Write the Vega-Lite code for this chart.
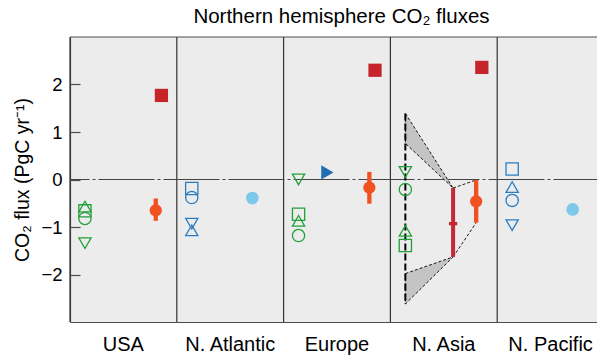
{
  "$schema": "https://vega.github.io/schema/vega-lite/v6.json",
  "width": 527,
  "height": 285,
  "autosize": {"type": "none"},
  "padding": {"left": 70, "top": 37, "right": 0, "bottom": 34},
  "background": "white",
  "view": {"fill": "#ebeceb", "stroke": null},
  "title": {
    "text": "Northern hemisphere CO₂ fluxes",
    "fontSize": 20.5,
    "fontWeight": "normal",
    "font": "Liberation Sans",
    "color": "#000000",
    "anchor": "middle",
    "baseline": "alphabetic",
    "offset": 14,
    "dx": 8,
    "dy": 21
  },
  "config": {
    "font": "Liberation Sans",
    "axis": {
      "grid": false,
      "domainColor": "#4d4d4d",
      "domainWidth": 1.2,
      "tickColor": "#4d4d4d",
      "tickWidth": 1.2,
      "labelColor": "#000000",
      "titleColor": "#000000",
      "labelFont": "Liberation Sans",
      "titleFont": "Liberation Sans",
      "titleFontWeight": "normal"
    }
  },
  "datasets": {
    "regions": [
      {"region": "USA"},
      {"region": "N. Atlantic"},
      {"region": "Europe"},
      {"region": "N. Asia"},
      {"region": "N. Pacific"}
    ],
    "bottomUp": [
      {"region": "USA", "group": "land", "source": "S1", "flux": -0.57},
      {"region": "USA", "group": "land", "source": "S2", "flux": -0.66},
      {"region": "USA", "group": "land", "source": "S3", "flux": -0.82},
      {"region": "USA", "group": "land", "source": "S4", "flux": -1.34},
      {"region": "N. Atlantic", "group": "ocean", "source": "S2", "flux": -0.19},
      {"region": "N. Atlantic", "group": "ocean", "source": "S3", "flux": -0.38},
      {"region": "N. Atlantic", "group": "ocean", "source": "S4", "flux": -0.93},
      {"region": "N. Atlantic", "group": "ocean", "source": "S1", "flux": -1.07},
      {"region": "Europe", "group": "land", "source": "S4", "flux": 0.0},
      {"region": "Europe", "group": "land", "source": "S2", "flux": -0.73},
      {"region": "Europe", "group": "land", "source": "S1", "flux": -0.87},
      {"region": "Europe", "group": "land", "source": "S3", "flux": -1.18},
      {"region": "N. Asia", "group": "land", "source": "S4", "flux": 0.16},
      {"region": "N. Asia", "group": "land", "source": "S3", "flux": -0.21},
      {"region": "N. Asia", "group": "land", "source": "S1", "flux": -1.08},
      {"region": "N. Asia", "group": "land", "source": "S2", "flux": -1.39},
      {"region": "N. Pacific", "group": "ocean", "source": "S2", "flux": 0.22},
      {"region": "N. Pacific", "group": "ocean", "source": "S1", "flux": -0.16},
      {"region": "N. Pacific", "group": "ocean", "source": "S3", "flux": -0.44},
      {"region": "N. Pacific", "group": "ocean", "source": "S4", "flux": -0.96}
    ],
    "aircraft": [
      {"region": "Europe", "flux": 0.15}
    ],
    "forward": [
      {"region": "USA", "flux": 1.77},
      {"region": "Europe", "flux": 2.3},
      {"region": "N. Asia", "flux": 2.36}
    ],
    "inversion": [
      {"region": "USA", "flux": -0.65, "low": -0.87, "high": -0.4},
      {"region": "Europe", "flux": -0.17, "low": -0.51, "high": 0.16},
      {"region": "N. Asia", "flux": -0.46, "low": -0.91, "high": -0.01}
    ],
    "oceanClimatology": [
      {"region": "N. Atlantic", "flux": -0.39},
      {"region": "N. Pacific", "flux": -0.63}
    ],
    "ensemble": [
      {"region": "N. Asia", "flux": -0.93, "low": -1.63, "high": -0.18}
    ],
    "spread": [
      {"region": "N. Asia", "low": -2.62, "high": 1.39}
    ],
    "envelope": [
      {"region": "N. Asia", "part": "upper", "end": "spread", "high": 1.39, "low": 0.76},
      {"region": "N. Asia", "part": "upper", "end": "ensemble", "high": -0.18, "low": -0.18},
      {"region": "N. Asia", "part": "lower", "end": "spread", "high": -1.98, "low": -2.62},
      {"region": "N. Asia", "part": "lower", "end": "ensemble", "high": -1.63, "low": -1.63}
    ],
    "links": [
      {"region": "N. Asia", "from": -0.18, "to": -0.01},
      {"region": "N. Asia", "from": -1.63, "to": -0.91}
    ]
  },
  "layer": [
    {
      "data": {"name": "regions"},
      "mark": {"type": "rule", "color": "#333333", "strokeWidth": 1.2},
      "encoding": {
        "x": {
          "field": "region", "type": "nominal", "bandPosition": 0, "title": null,
          "scale": {"domain": ["USA", "N. Atlantic", "Europe", "N. Asia", "N. Pacific"], "range": [0, 534], "paddingInner": 0, "paddingOuter": 0},
          "axis": {"title": null, "ticks": false, "tickSize": 0, "labelAngle": 0, "labelFontSize": 20, "labelPadding": 28, "labelBaseline": "alphabetic"}
        }
      }
    },
    {
      "data": {"values": [{}]},
      "mark": {"type": "rule", "color": "#444444", "strokeWidth": 1.2, "strokeDash": [56, 3, 3, 3], "strokeDashOffset": 12.5},
      "encoding": {
        "y": {"datum": 0, "type": "quantitative", "title": "CO₂ flux (PgC yr⁻¹)", "scale": {"domain": [-3, 3], "nice": false, "zero": false}}
      }
    },
    {
      "data": {"values": [{}]},
      "mark": {"type": "rule", "color": "#4d4d4d", "strokeWidth": 1.2},
      "encoding": {
        "y": {"datum": 3, "type": "quantitative", "title": "CO₂ flux (PgC yr⁻¹)", "scale": {"domain": [-3, 3], "nice": false, "zero": false}}
      }
    },
    {
      "data": {"name": "envelope"},
      "mark": {"type": "area", "fill": "#c4c4c4", "stroke": "#000000", "strokeWidth": 0.9, "strokeDash": [3, 2]},
      "encoding": {
        "x": {
          "field": "region", "type": "nominal", "bandPosition": 0, "title": null,
          "scale": {"domain": ["USA", "N. Atlantic", "Europe", "N. Asia", "N. Pacific"], "range": [0, 534], "paddingInner": 0, "paddingOuter": 0}
        },
        "xOffset": {"field": "end", "type": "nominal", "scale": {"type": "point", "domain": ["spread", "ensemble"], "padding": 0.6195, "align": 0.2538}},
        "y": {"field": "high", "type": "quantitative", "title": "CO₂ flux (PgC yr⁻¹)", "scale": {"domain": [-3, 3], "nice": false, "zero": false}},
        "y2": {"field": "low"},
        "detail": {"field": "part"}
      }
    },
    {
      "data": {"name": "spread"},
      "mark": {"type": "rule", "color": "#000000", "strokeWidth": 2, "strokeDash": [7, 3]},
      "encoding": {
        "x": {
          "field": "region", "type": "nominal", "bandPosition": 0.14, "title": null,
          "scale": {"domain": ["USA", "N. Atlantic", "Europe", "N. Asia", "N. Pacific"], "range": [0, 534], "paddingInner": 0, "paddingOuter": 0}
        },
        "y": {"field": "high", "type": "quantitative", "title": "CO₂ flux (PgC yr⁻¹)", "scale": {"domain": [-3, 3], "nice": false, "zero": false}},
        "y2": {"field": "low"}
      }
    },
    {
      "data": {"name": "links"},
      "mark": {"type": "rule", "color": "#000000", "strokeWidth": 0.9, "strokeDash": [3, 2]},
      "encoding": {
        "x": {
          "field": "region", "type": "nominal", "bandPosition": 0.587, "title": null,
          "scale": {"domain": ["USA", "N. Atlantic", "Europe", "N. Asia", "N. Pacific"], "range": [0, 534], "paddingInner": 0, "paddingOuter": 0}
        },
        "x2": {"field": "region", "bandPosition": 0.803},
        "y": {"field": "from", "type": "quantitative", "title": "CO₂ flux (PgC yr⁻¹)", "scale": {"domain": [-3, 3], "nice": false, "zero": false}},
        "y2": {"field": "to"}
      }
    },
    {
      "data": {"name": "ensemble"},
      "mark": {"type": "rule", "color": "#c22a33", "strokeWidth": 4},
      "encoding": {
        "x": {
          "field": "region", "type": "nominal", "bandPosition": 0.587, "title": null,
          "scale": {"domain": ["USA", "N. Atlantic", "Europe", "N. Asia", "N. Pacific"], "range": [0, 534], "paddingInner": 0, "paddingOuter": 0}
        },
        "y": {"field": "high", "type": "quantitative", "title": "CO₂ flux (PgC yr⁻¹)", "scale": {"domain": [-3, 3], "nice": false, "zero": false}},
        "y2": {"field": "low"}
      }
    },
    {
      "data": {"name": "ensemble"},
      "mark": {"type": "rule", "color": "#c22a33", "strokeWidth": 3.3},
      "encoding": {
        "x": {
          "field": "region", "type": "nominal", "bandPosition": 0.548, "title": null,
          "scale": {"domain": ["USA", "N. Atlantic", "Europe", "N. Asia", "N. Pacific"], "range": [0, 534], "paddingInner": 0, "paddingOuter": 0}
        },
        "x2": {"field": "region", "bandPosition": 0.626},
        "y": {"field": "flux", "type": "quantitative", "title": "CO₂ flux (PgC yr⁻¹)", "scale": {"domain": [-3, 3], "nice": false, "zero": false}}
      }
    },
    {
      "data": {"name": "inversion"},
      "mark": {"type": "rule", "color": "#ef5220", "strokeWidth": 4.3},
      "encoding": {
        "x": {
          "field": "region", "type": "nominal", "bandPosition": 0.803, "title": null,
          "scale": {"domain": ["USA", "N. Atlantic", "Europe", "N. Asia", "N. Pacific"], "range": [0, 534], "paddingInner": 0, "paddingOuter": 0}
        },
        "y": {"field": "high", "type": "quantitative", "title": "CO₂ flux (PgC yr⁻¹)", "scale": {"domain": [-3, 3], "nice": false, "zero": false}},
        "y2": {"field": "low"}
      }
    },
    {
      "data": {"name": "inversion"},
      "mark": {"type": "point", "shape": "circle", "filled": true, "opacity": 1, "size": 150, "color": "#ef5220"},
      "encoding": {
        "x": {
          "field": "region", "type": "nominal", "bandPosition": 0.803, "title": null,
          "scale": {"domain": ["USA", "N. Atlantic", "Europe", "N. Asia", "N. Pacific"], "range": [0, 534], "paddingInner": 0, "paddingOuter": 0}
        },
        "y": {"field": "flux", "type": "quantitative", "title": "CO₂ flux (PgC yr⁻¹)", "scale": {"domain": [-3, 3], "nice": false, "zero": false}}
      }
    },
    {
      "data": {"name": "forward"},
      "mark": {"type": "point", "shape": "square", "filled": true, "opacity": 1, "size": 175, "color": "#c4242a"},
      "encoding": {
        "x": {
          "field": "region", "type": "nominal", "bandPosition": 0.856, "title": null,
          "scale": {"domain": ["USA", "N. Atlantic", "Europe", "N. Asia", "N. Pacific"], "range": [0, 534], "paddingInner": 0, "paddingOuter": 0}
        },
        "y": {"field": "flux", "type": "quantitative", "title": "CO₂ flux (PgC yr⁻¹)", "scale": {"domain": [-3, 3], "nice": false, "zero": false}}
      }
    },
    {
      "data": {"name": "oceanClimatology"},
      "mark": {"type": "point", "shape": "circle", "filled": true, "opacity": 1, "size": 160, "color": "#7ec8ea"},
      "encoding": {
        "x": {
          "field": "region", "type": "nominal", "bandPosition": 0.707, "title": null,
          "scale": {"domain": ["USA", "N. Atlantic", "Europe", "N. Asia", "N. Pacific"], "range": [0, 534], "paddingInner": 0, "paddingOuter": 0}
        },
        "y": {"field": "flux", "type": "quantitative", "title": "CO₂ flux (PgC yr⁻¹)", "scale": {"domain": [-3, 3], "nice": false, "zero": false}}
      }
    },
    {
      "data": {"name": "bottomUp"},
      "mark": {"type": "point", "filled": false, "opacity": 1, "size": 150, "strokeWidth": 1.3},
      "encoding": {
        "x": {
          "field": "region", "type": "nominal", "bandPosition": 0.14, "title": null,
          "scale": {"domain": ["USA", "N. Atlantic", "Europe", "N. Asia", "N. Pacific"], "range": [0, 534], "paddingInner": 0, "paddingOuter": 0}
        },
        "y": {
          "field": "flux", "type": "quantitative", "title": "CO₂ flux (PgC yr⁻¹)",
          "scale": {"domain": [-3, 3], "nice": false, "zero": false},
          "axis": {"title": "CO₂ flux (PgC yr⁻¹)", "values": [-2, -1, 0, 1, 2], "tickSize": -10, "labelPadding": 18, "labelFontSize": 18.5, "titleFontSize": 19.5, "titlePadding": 8}
        },
        "shape": {"field": "source", "type": "nominal", "scale": {"domain": ["S1", "S2", "S3", "S4"], "range": ["triangle-up", "square", "circle", "triangle-down"]}, "legend": null},
        "color": {"field": "group", "type": "nominal", "scale": {"domain": ["land", "ocean"], "range": ["#22a03c", "#2a7dc4"]}, "legend": null}
      }
    },
    {
      "data": {"name": "aircraft"},
      "mark": {"type": "point", "shape": "triangle-right", "filled": true, "opacity": 1, "size": 200, "color": "#1f6db3"},
      "encoding": {
        "x": {
          "field": "region", "type": "nominal", "bandPosition": 0.41, "title": null,
          "scale": {"domain": ["USA", "N. Atlantic", "Europe", "N. Asia", "N. Pacific"], "range": [0, 534], "paddingInner": 0, "paddingOuter": 0}
        },
        "y": {"field": "flux", "type": "quantitative", "title": "CO₂ flux (PgC yr⁻¹)", "scale": {"domain": [-3, 3], "nice": false, "zero": false}}
      }
    }
  ]
}
